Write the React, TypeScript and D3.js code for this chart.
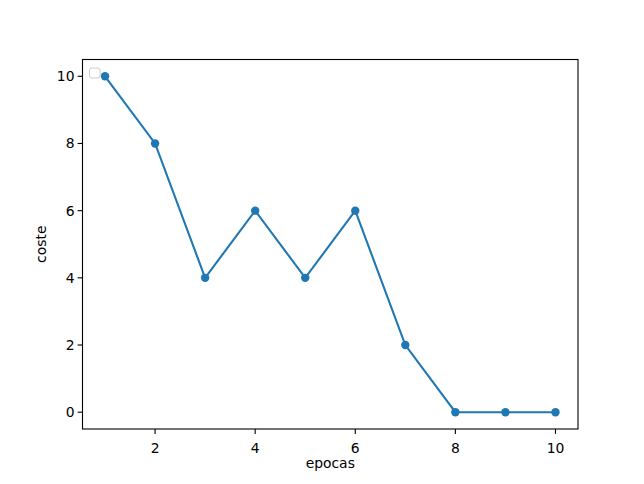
import React from 'react';
import * as d3 from 'd3';

const epochs = [1, 2, 3, 4, 5, 6, 7, 8, 9, 10];
const cost = [10, 8, 4, 6, 4, 6, 2, 0, 0, 0];
const xTicks = [2, 4, 6, 8, 10];
const yTicks = [0, 2, 4, 6, 8, 10];

const W = 644;
const H = 484;
const m = { left: 82.5, right: 578, top: 59.5, bottom: 429 };
const blue = '#1f77b4';
const font = 'DejaVu Sans, sans-serif';

function App() {
  const x = d3.scaleLinear().domain([0.55, 10.45]).range([m.left, m.right]);
  const y = d3.scaleLinear().domain([-0.5, 10.5]).range([m.bottom, m.top]);

  const line = d3
    .line<number>()
    .x((_, i) => x(epochs[i]))
    .y((d) => y(d));

  return (
    <svg
      width={W}
      height={H}
      style={{ position: 'absolute', left: 0, top: 0, background: '#fff' }}
      fontFamily={font}
    >
      <rect width={W} height={H} fill="#fff" />
      <path d={line(cost) ?? ''} fill="none" stroke={blue} strokeWidth={2.1} />
      {cost.map((d, i) => (
        <circle key={i} cx={x(epochs[i])} cy={y(d)} r={4.2} fill={blue} />
      ))}

      {/* empty legend */}
      <rect x={89.5} y={68} width={10.5} height={10} rx={2} fill="#fff" fillOpacity={0.8} stroke="#ccc" strokeWidth={1} />

      {/* axes frame */}
      <rect
        x={m.left}
        y={m.top}
        width={m.right - m.left}
        height={m.bottom - m.top}
        fill="none"
        stroke="#000"
        strokeWidth={1.1}
      />

      {xTicks.map((t) => (
        <g key={t} transform={`translate(${x(t)},${m.bottom})`}>
          <line y2={4.9} stroke="#000" strokeWidth={1.1} />
          <text y={20} textAnchor="middle" fontSize={13.9} dominantBaseline="middle">
            {t}
          </text>
        </g>
      ))}
      {yTicks.map((t) => (
        <g key={t} transform={`translate(${m.left},${y(t)})`}>
          <line x2={-4.9} stroke="#000" strokeWidth={1.1} />
          <text x={-8} textAnchor="end" fontSize={13.9} dominantBaseline="central">
            {t}
          </text>
        </g>
      ))}

      <text x={(m.left + m.right) / 2} y={464} textAnchor="middle" fontSize={13.9} dominantBaseline="middle">
        epocas
      </text>
      <text
        transform={`translate(42,${(m.top + m.bottom) / 2}) rotate(-90)`}
        textAnchor="middle"
        fontSize={13.9}
        dominantBaseline="middle"
      >
        coste
      </text>
    </svg>
  );
}

export default App;
